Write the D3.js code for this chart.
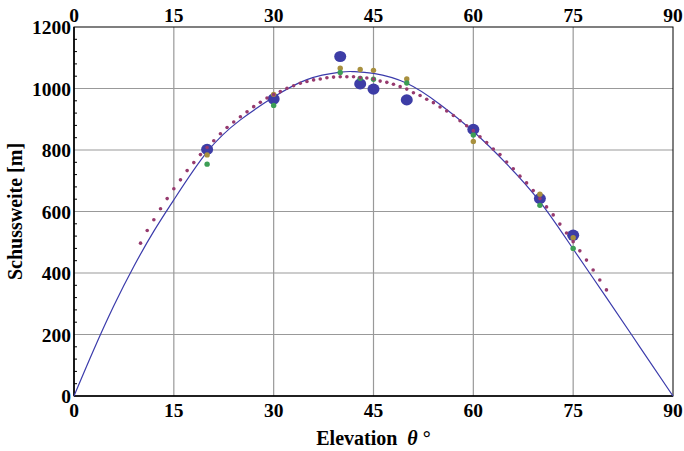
<!DOCTYPE html>
<html>
<head>
<meta charset="utf-8">
<script src="https://cdn.jsdelivr.net/npm/d3@7"></script>
<style>
  body { margin: 0; background: #fff; }
  text { font-family: "Liberation Serif", "Times New Roman", serif; font-weight: bold; }
</style>
</head>
<body>
<div id="chart"></div>
<script>
// measured shots (angle in degrees, range in m)
var shotAngles = [20, 30, 40, 43, 45, 50, 60, 70, 75];
var blueShots  = [802, 966, 1104, 1015, 998, 963, 867, 642, 523];
var goldShots  = [784, 981, 1066, 1062, 1059, 1031, 828, 656, 515];
var greenShots = [754, 945, 1052, 1033, 1030, 1018, 849, 620, 480];

// simulated range, one point per degree
var simAngles = [10, 11, 12, 13, 14, 15, 16, 17, 18, 19, 20, 21, 22, 23, 24, 25, 26, 27, 28, 29,
    30, 31, 32, 33, 34, 35, 36, 37, 38, 39, 40, 41, 42, 43, 44, 45, 46, 47, 48, 49,
    50, 51, 52, 53, 54, 55, 56, 57, 58, 59, 60, 61, 62, 63, 64, 65, 66, 67, 68, 69,
    70, 71, 72, 73, 74, 75, 76, 77, 78, 79, 80];
var simValues = [497, 538, 573, 609, 642, 674, 703, 733, 759, 785, 808, 830, 853, 873, 891, 908, 924, 941, 955, 969,
    980, 990, 1001, 1009, 1017, 1023, 1028, 1031, 1035, 1037, 1038, 1038, 1038, 1036, 1034, 1031, 1024, 1020, 1014, 1006,
    998, 986, 977, 965, 954, 940, 927, 912, 895, 879, 863, 843, 824, 803, 785, 761, 739, 715, 693, 668,
    642, 615, 589, 559, 530, 502, 472, 442, 410, 377, 345];

// fitted curve
var fitAngles = [0, 3, 6, 9, 12, 15, 20, 25, 30, 35, 40, 42, 45, 50, 55, 60, 65, 70, 75, 80, 85, 90];
var fitValues = [0, 152, 294, 422, 536, 638, 794, 898, 972, 1029, 1053, 1055, 1049, 1017, 948, 860, 755, 632, 478, 320, 160, 0];

var xTicks = [0, 15, 30, 45, 60, 75, 90];
var yTicks = [0, 200, 400, 600, 800, 1000, 1200];

var margin = { left: 74, right: 11, top: 27, bottom: 55 };
var width = 684 - margin.left - margin.right;
var height = 451 - margin.top - margin.bottom;

var svg = d3.select("#chart").append("svg")
    .attr("width", 684)
    .attr("height", 451);

var g = svg.append("g")
    .attr("transform", "translate(" + margin.left + "," + margin.top + ")");

var x = d3.scaleLinear().domain([0, 90]).range([0, width]);
var y = d3.scaleLinear().domain([0, 1200]).range([height, 0]);

// grid
g.selectAll(".vgrid")
    .data(xTicks.slice(1, -1))
    .enter().append("line")
    .attr("x1", d => x(d)).attr("x2", d => x(d))
    .attr("y1", 0).attr("y2", height)
    .attr("stroke", "#999").attr("stroke-width", 1.2);

g.selectAll(".hgrid")
    .data(yTicks.slice(1, -1))
    .enter().append("line")
    .attr("x1", 0).attr("x2", width)
    .attr("y1", d => y(d)).attr("y2", d => y(d))
    .attr("stroke", "#999").attr("stroke-width", 1.2);

// minor ticks on the left axis
var minor = d3.range(0, 1200, 40).filter(d => d % 200 != 0);
g.selectAll(".minor")
    .data(minor)
    .enter().append("line")
    .attr("x1", 0).attr("x2", 3)
    .attr("y1", d => y(d)).attr("y2", d => y(d))
    .attr("stroke", "#000").attr("stroke-width", 1);

// frame
g.append("rect")
    .attr("width", width).attr("height", height)
    .attr("fill", "none").attr("stroke", "#000").attr("stroke-width", 1);
g.append("line").attr("x1", 0).attr("x2", 0).attr("y1", 0).attr("y2", height)
    .attr("stroke", "#000").attr("stroke-width", 1.6);
g.append("line").attr("x1", 0).attr("x2", width).attr("y1", height).attr("y2", height)
    .attr("stroke", "#000").attr("stroke-width", 1.6);

// tick labels
g.selectAll(".ylab")
    .data(yTicks)
    .enter().append("text")
    .attr("x", -3)
    .attr("y", d => y(d) + 7)
    .attr("text-anchor", "end")
    .attr("font-size", "19.5px")
    .text(d => d);

g.selectAll(".xlab")
    .data(xTicks)
    .enter().append("text")
    .attr("x", d => x(d))
    .attr("y", height + 21)
    .attr("text-anchor", "middle")
    .attr("font-size", "19.5px")
    .text(d => d);

g.selectAll(".xlabTop")
    .data(xTicks)
    .enter().append("text")
    .attr("x", d => x(d))
    .attr("y", -5)
    .attr("text-anchor", "middle")
    .attr("font-size", "19.5px")
    .text(d => d);

// axis titles
var xt = svg.append("text")
    .attr("x", margin.left + width / 2)
    .attr("y", 445)
    .attr("text-anchor", "middle")
    .attr("font-size", "20px");
xt.append("tspan").text("Elevation ");
xt.append("tspan").attr("font-style", "italic").attr("dx", 5).text("θ");
xt.append("tspan").attr("dx", 5).text("°");

svg.append("text")
    .attr("transform", "translate(22," + (margin.top + height / 2) + ") rotate(-90)")
    .attr("text-anchor", "middle")
    .attr("font-size", "20px")
    .text("Schussweite [m]");

// fitted curve
var line = d3.line()
    .x(d => x(d[0]))
    .y(d => y(d[1]))
    .curve(d3.curveNatural);

g.append("path")
    .datum(fitAngles.map((a, i) => [a, fitValues[i]]))
    .attr("d", line)
    .attr("fill", "none")
    .attr("stroke", "#3b3bab")
    .attr("stroke-width", 1.2);

// measured points
g.selectAll(".blue")
    .data(shotAngles)
    .enter().append("ellipse")
    .attr("cx", d => x(d))
    .attr("cy", (d, i) => y(blueShots[i]))
    .attr("rx", 6).attr("ry", 5.6)
    .attr("fill", "#3d3da6");

g.selectAll(".gold")
    .data(shotAngles)
    .enter().append("circle")
    .attr("cx", d => x(d))
    .attr("cy", (d, i) => y(goldShots[i]))
    .attr("r", 2.7)
    .attr("fill", "#a8903e");

g.selectAll(".green")
    .data(shotAngles)
    .enter().append("circle")
    .attr("cx", d => x(d))
    .attr("cy", (d, i) => y(greenShots[i]))
    .attr("r", 2.7)
    .attr("fill", "#3c9e55");

g.selectAll(".sim")
    .data(simAngles)
    .enter().append("circle")
    .attr("cx", d => x(d))
    .attr("cy", (d, i) => y(simValues[i]))
    .attr("r", 1.8)
    .attr("fill", "#963a6e");
</script>
</body>
</html>
